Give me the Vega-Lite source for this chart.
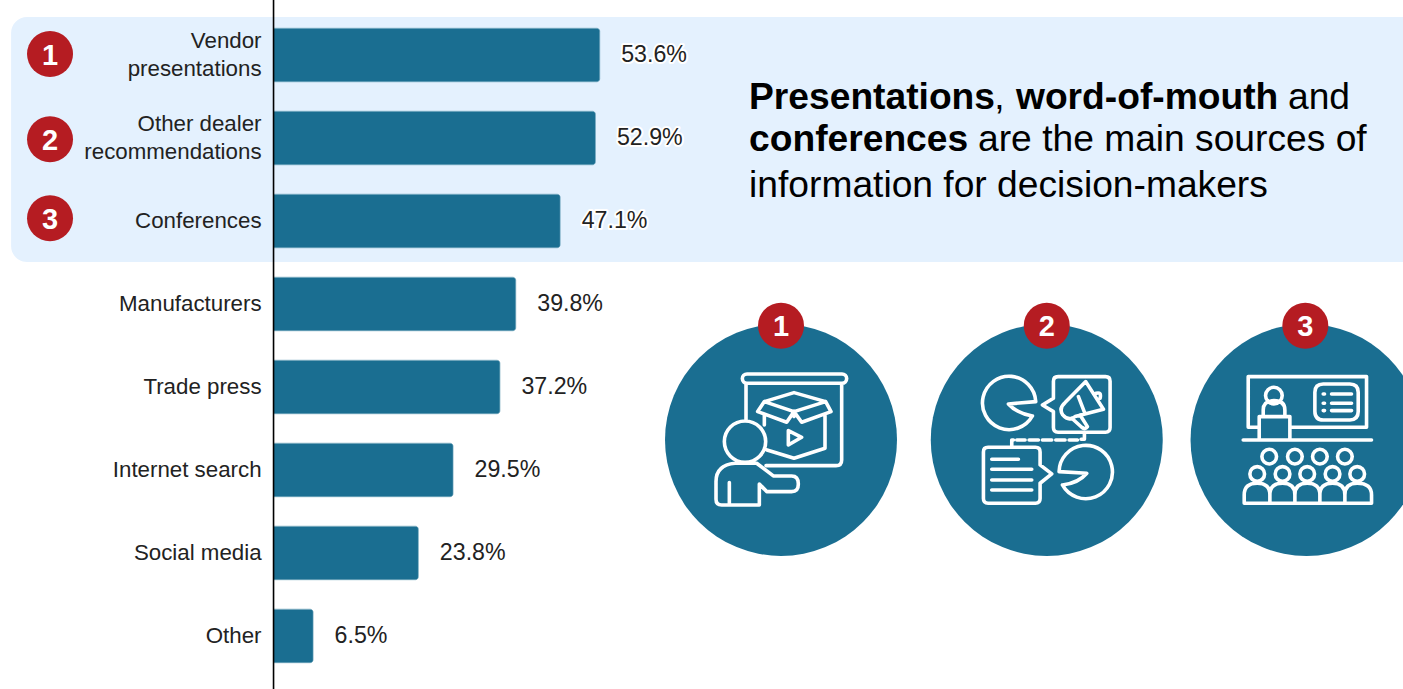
{
  "$schema": "https://vega.github.io/schema/vega-lite/v6.json",
  "width": 1403,
  "height": 689,
  "padding": 0,
  "autosize": {"type": "none"},
  "background": "white",
  "config": {"view": {"stroke": null}, "axis": {"disable": true}, "legend": {"disable": true}},
  "datasets": {
    "sources": [
      {"rank": 1, "source": "Vendor\npresentations", "share": 53.6},
      {"rank": 2, "source": "Other dealer\nrecommendations", "share": 52.9},
      {"rank": 3, "source": "Conferences", "share": 47.1},
      {"rank": 4, "source": "Manufacturers", "share": 39.8},
      {"rank": 5, "source": "Trade press", "share": 37.2},
      {"rank": 6, "source": "Internet search", "share": 29.5},
      {"rank": 7, "source": "Social media", "share": 23.8},
      {"rank": 8, "source": "Other", "share": 6.5}
    ],
    "medallions": [
      {"x": 83.39, "y": 5.638, "icon": "presenter"},
      {"x": 127.06, "y": 5.638, "icon": "word"},
      {"x": 169.75, "y": 5.638, "icon": "conference"}
    ],
    "badges": [
      {"x": -36.73, "y": 0.988, "n": "1"},
      {"x": -36.73, "y": 2.015, "n": "2"},
      {"x": -36.73, "y": 2.967, "n": "3"},
      {"x": 83.39, "y": 4.261, "n": "1"},
      {"x": 127.06, "y": 4.261, "n": "2"},
      {"x": 169.55, "y": 4.261, "n": "3"}
    ]
  },
  "layer": [
    {
      "data": {"values": [{"x": -43.13, "x2": 185.6, "y": 0.542, "y2": 3.494}]},
      "mark": {"type": "rect", "color": "#E4F1FE", "cornerRadiusTopLeft": 16, "cornerRadiusBottomLeft": 16},
      "encoding": {
        "x": {"field": "x", "type": "quantitative", "scale": {"domain": [-44.95, 185.6], "nice": false, "zero": false, "padding": 0}},
        "x2": {"field": "x2"},
        "y": {"field": "y", "type": "quantitative", "scale": {"domain": [0.337, 8.639], "reverse": true, "nice": false, "zero": false, "padding": 0}},
        "y2": {"field": "y2"}
      }
    },
    {
      "data": {"name": "sources"},
      "mark": {"type": "bar", "orient": "horizontal", "size": 53.5, "color": "#1A6E91", "cornerRadiusEnd": 3, "stroke": "#4F90AB", "strokeWidth": 0.6},
      "encoding": {
        "x": {"field": "share", "type": "quantitative"},
        "y": {"field": "rank", "type": "quantitative"}
      }
    },
    {
      "data": {"values": [{"x": 0}]},
      "mark": {"type": "rule", "color": "black", "strokeWidth": 1.6},
      "encoding": {"x": {"field": "x", "type": "quantitative"}}
    },
    {
      "data": {"name": "sources"},
      "transform": [{"filter": "datum.rank > 2"}],
      "mark": {"type": "text", "align": "right", "baseline": "middle", "dx": -12, "font": "Liberation Sans", "fontSize": 22.3, "color": "#222222"},
      "encoding": {
        "x": {"datum": 0, "type": "quantitative"},
        "y": {"field": "rank", "type": "quantitative"},
        "text": {"field": "source", "type": "nominal"}
      }
    },
    {
      "data": {"name": "sources"},
      "transform": [{"filter": "datum.rank <= 2"}],
      "mark": {"type": "text", "align": "right", "baseline": "middle", "dx": -12, "dy": -14, "lineBreak": "\n", "lineHeight": 28, "font": "Liberation Sans", "fontSize": 22.3, "color": "#222222"},
      "encoding": {
        "x": {"datum": 0, "type": "quantitative"},
        "y": {"field": "rank", "type": "quantitative"},
        "text": {"field": "source", "type": "nominal"}
      }
    },
    {
      "data": {"name": "sources"},
      "transform": [{"calculate": "format(datum.share, '.1f') + '%'", "as": "label"}],
      "mark": {"type": "text", "align": "left", "baseline": "middle", "dx": 21.5, "font": "Liberation Sans", "fontSize": 23.2, "stroke": "white", "strokeWidth": 4, "strokeJoin": "round", "color": "white"},
      "encoding": {
        "x": {"field": "share", "type": "quantitative"},
        "y": {"field": "rank", "type": "quantitative"},
        "text": {"field": "label", "type": "nominal"}
      }
    },
    {
      "data": {"name": "sources"},
      "transform": [{"calculate": "format(datum.share, '.1f') + '%'", "as": "label"}],
      "mark": {"type": "text", "align": "left", "baseline": "middle", "dx": 21.5, "font": "Liberation Sans", "fontSize": 23.2, "color": "#222222"},
      "encoding": {
        "x": {"field": "share", "type": "quantitative"},
        "y": {"field": "rank", "type": "quantitative"},
        "text": {"field": "label", "type": "nominal"}
      }
    },
    {
      "data": {"values": [
        {"x": 118.45, "y": 1.65, "run": ","},
        {"x": 166.7, "y": 1.65, "run": "and"},
        {"x": 115.77, "y": 2.156, "run": "are the main sources of"},
        {"x": 78.14, "y": 2.71, "run": "information for decision-makers"}
      ]},
      "mark": {"type": "text", "align": "left", "baseline": "alphabetic", "font": "Liberation Sans", "fontSize": 37.2, "color": "black"},
      "encoding": {
        "x": {"field": "x", "type": "quantitative"},
        "y": {"field": "y", "type": "quantitative"},
        "text": {"field": "run", "type": "nominal"}
      }
    },
    {
      "data": {"values": [
        {"x": 78.14, "y": 1.65, "run": "Presentations"},
        {"x": 122.0, "y": 1.65, "run": "word-of-mouth"},
        {"x": 78.14, "y": 2.156, "run": "conferences"}
      ]},
      "mark": {"type": "text", "align": "left", "baseline": "alphabetic", "font": "Liberation Sans", "fontSize": 37.2, "fontWeight": "bold", "color": "black"},
      "encoding": {
        "x": {"field": "x", "type": "quantitative"},
        "y": {"field": "y", "type": "quantitative"},
        "text": {"field": "run", "type": "nominal"}
      }
    },
    {
      "data": {"name": "medallions"},
      "mark": {"type": "point", "shape": "circle", "filled": true, "size": 53824, "color": "#1A6E91", "opacity": 1, "clip": true},
      "encoding": {
        "x": {"field": "x", "type": "quantitative"},
        "y": {"field": "y", "type": "quantitative"}
      }
    },
    {
      "data": {"name": "medallions"},
      "mark": {"type": "point", "filled": false, "size": 0.4444, "stroke": "white", "strokeWidth": 3.6, "strokeJoin": "round", "strokeCap": "round", "opacity": 1},
      "encoding": {
        "x": {"field": "x", "type": "quantitative"},
        "y": {"field": "y", "type": "quantitative"},
        "shape": {
          "field": "icon",
          "type": "nominal",
          "scale": {
            "domain": ["presenter", "word", "conference"],
            "range": [
              "M-102,-198 H183 A14 14 0 0 1 183,-170 H-102 A14 14 0 0 1 -102,-198 Z M-105,-170 V-60 M182,-170 V60 Q182,77 165,77 H-45 M39,-142 L-50,-115 L39,-85 L134,-115 Z M-50,-115 L-70,-85 L17,-53 L39,-85 M134,-115 L150,-85 L62,-53 L39,-85 M39,-85 V-70 M-50,-75 V-45 M-42,30 L39,55 L132,25 V-75 M22,-28 L62,-8 L22,15 Z M-170,5 A62 62 0 1 1 -46,5 A62 62 0 1 1 -170,5 Z M-178,195 H-65 V132 L-43,155 H32 Q52,155 52,132 Q52,108 32,108 H-23 L-73,70 H-138 Q-195,75 -195,125 V178 Q-195,195 -178,195 Z M-155,128 V195",
              "M-33,-115 A80 80 0 1 0 -43,-72 Q-90,-80 -115,-108 Z M34,-190 H176 Q190,-190 190,-176 V-37 Q190,-23 176,-23 H34 Q20,-23 20,-37 V-85 L-13,-105 L20,-125 V-176 Q20,-190 34,-190 Z M117,-175 L170,-92 L85,-70 Q65,-55 48,-75 Q35,-95 55,-112 Z M75,-65 L105,-38 Q115,-30 122,-40 L100,-75 M148,-140 Q165,-145 160,-125 M95,-130 L115,-78 M113,-23 V-2 H103 M-105,20 V0 H-100 M-90,0 H-65 M-53,0 H-25 M-13,0 H15 M27,0 H55 M67,0 H92 M-176,22 H-34 Q-20,22 -20,36 V75 L15,102 L-20,130 V176 Q-20,190 -34,190 H-176 Q-190,190 -190,176 V36 Q-190,22 -176,22 Z M-165,58 H-85 M-165,88 H-45 M-165,120 H-45 M-165,150 H-45 M37,95 A80 80 0 1 1 47,135 Q95,130 120,100 Z",
              "M-145,-38 H-175 V-190 H180 V-38 H-48 M-190,0 H195 M-142,0 V-70 H-50 V0 M-123,-133 A25 25 0 1 1 -73,-133 A25 25 0 1 1 -123,-133 Z M-130,-70 V-90 Q-130,-118 -98,-118 Q-65,-118 -65,-90 V-70 M50,-168 H130 Q155,-168 155,-143 V-85 Q155,-60 130,-60 H50 Q25,-60 25,-85 V-143 Q25,-168 50,-168 Z M75,-138 H135 M75,-110 H135 M75,-88 H135 M50,-138 H54 M50,-110 H54 M50,-88 H54 M-134,50 A22 22 0 1 1 -90,50 A22 22 0 1 1 -134,50 Z M-57,50 A22 22 0 1 1 -13,50 A22 22 0 1 1 -57,50 Z M18,50 A22 22 0 1 1 62,50 A22 22 0 1 1 18,50 Z M93,50 A22 22 0 1 1 137,50 A22 22 0 1 1 93,50 Z M-170,102 A22 22 0 1 1 -126,102 A22 22 0 1 1 -170,102 Z M-94,102 A22 22 0 1 1 -50,102 A22 22 0 1 1 -94,102 Z M-20,102 A22 22 0 1 1 24,102 A22 22 0 1 1 -20,102 Z M56,102 A22 22 0 1 1 100,102 A22 22 0 1 1 56,102 Z M130,102 A22 22 0 1 1 174,102 A22 22 0 1 1 130,102 Z M-187,190 V165 Q-187,130 -148,130 Q-110,130 -110,165 V190 M-110,165 Q-110,130 -72,130 Q-35,130 -35,165 V190 M-35,165 Q-35,130 2,130 Q40,130 40,165 V190 M40,165 Q40,130 78,130 Q115,130 115,165 V190 M115,165 Q115,130 152,130 Q195,130 195,165 V190 H-187"
            ]
          }
        }
      }
    },
    {
      "data": {"name": "badges"},
      "mark": {"type": "point", "shape": "circle", "filled": true, "size": 2116, "color": "#B51C22", "opacity": 1},
      "encoding": {
        "x": {"field": "x", "type": "quantitative"},
        "y": {"field": "y", "type": "quantitative"}
      }
    },
    {
      "data": {"name": "badges"},
      "mark": {"type": "text", "align": "center", "baseline": "middle", "dy": 1.5, "font": "Liberation Sans", "fontSize": 29, "fontWeight": "bold", "color": "white"},
      "encoding": {
        "x": {"field": "x", "type": "quantitative"},
        "y": {"field": "y", "type": "quantitative"},
        "text": {"field": "n", "type": "nominal"}
      }
    }
  ]
}
